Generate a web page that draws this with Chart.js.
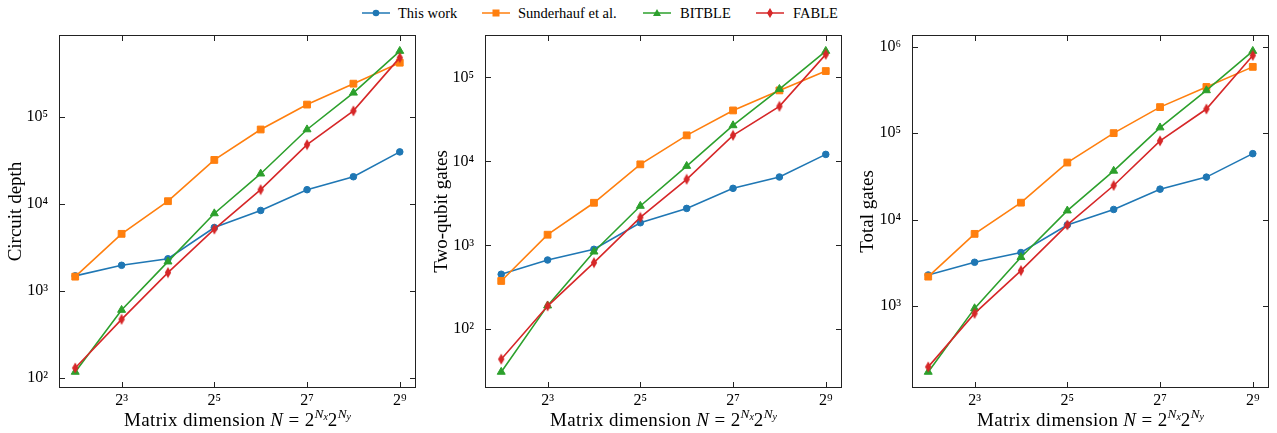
<!DOCTYPE html>
<html><head><meta charset="utf-8">
<script src="https://cdn.jsdelivr.net/npm/chart.js@4.4.1/dist/chart.umd.min.js"></script>
<style>
html,body{margin:0;padding:0;background:#fff;width:1277px;height:433px;overflow:hidden;font-family:"Liberation Serif",serif;color:#000}
.panel{position:absolute;top:0;height:433px;}
.xt{position:absolute;top:420px;font-size:19px;letter-spacing:0.35px;white-space:nowrap;transform:translate(-50%,-50%);}
.xt sup{font-size:70%;vertical-align:0.6em;line-height:0;letter-spacing:0}
.xt sub{font-size:75%;vertical-align:-0.2em;line-height:0}
.lg{position:absolute;top:13px;transform:translateY(-50%);font-size:14.5px;white-space:nowrap}
.lm{position:absolute;top:8px}
</style></head><body>
<div id="legend"></div>
<div class="panel" style="left:0;width:426px"><canvas id="c1"></canvas></div>
<div class="panel" style="left:426px;width:426px"><canvas id="c2"></canvas></div>
<div class="panel" style="left:852px;width:425px"><canvas id="c3"></canvas></div>
<script>
// ---- data ----
const dims = [4, 8, 16, 32, 64, 128, 256, 512];
const xTickExps = [3, 5, 7, 9];
const seriesNames = ["This work", "Sunderhauf et al.", "BITBLE", "FABLE"];

const depthThis   = [1490, 1970, 2340, 5340, 8380, 14500, 20400, 39300];
const depthSund   = [1460, 4520, 10700, 31800, 71000, 137000, 238000, 414000];
const depthBitble = [118, 605, 2170, 7740, 22100, 71000, 187000, 563000];
const depthFable  = [131, 473, 1625, 5120, 14500, 47600, 116000, 473000];

const twoqThis   = [452, 668, 896, 1857, 2750, 4770, 6510, 12100];
const twoqSund   = [376, 1337, 3210, 9210, 20400, 40400, 70000, 119000];
const twoqBitble = [31, 191, 839, 2940, 8790, 26800, 72600, 206000];
const twoqFable  = [44, 189, 621, 2150, 6110, 20400, 45200, 188000];

const totalThis   = [2290, 3210, 4160, 8670, 13100, 22500, 31000, 57900];
const totalSund   = [2190, 6840, 15700, 45700, 100000, 200000, 342000, 584000];
const totalBitble = [173, 940, 3670, 12700, 36600, 116000, 312000, 890000];
const totalFable  = [198, 822, 2570, 8670, 24800, 81500, 190000, 792000];

const yTitles = ["Circuit depth", "Two-qubit gates", "Total gates"];
// ---- styles ----
const colors = ["#1f77b4", "#ff7f0e", "#2ca02c", "#d62728"];
const SUP = {"0":"⁰","1":"¹","2":"²","3":"³","4":"⁴","5":"⁵","6":"⁶","7":"⁷","8":"⁸","9":"⁹"};
const FONT = '"Liberation Serif", serif';

function thinDiamond(color){
  const c = document.createElement('canvas'); c.width = 8; c.height = 12;
  const g = c.getContext('2d');
  g.fillStyle = color; g.beginPath();
  g.moveTo(4, 0.5); g.lineTo(7.2, 6); g.lineTo(4, 11.5); g.lineTo(0.8, 6); g.closePath(); g.fill();
  return c;
}
const pointStyles = ['circle', 'rect', 'triangle', thinDiamond(colors[3])];
const pointRadii = [3.3, 4.8, 4.6, 4];

const frame = {
  id: 'frame',
  afterDraw(chart){
    const {ctx, chartArea: a, scales: {x, y}} = chart;
    ctx.save();
    ctx.strokeStyle = '#222'; ctx.lineWidth = 1;
    ctx.strokeRect(Math.round(a.left)+0.5, Math.round(a.top)+0.5, Math.round(a.right-a.left)-1, Math.round(a.bottom-a.top)-1);
    const L = 6;
    ctx.beginPath();
    x.ticks.forEach(t => { const p = Math.round(x.getPixelForValue(t.value))+0.5;
      ctx.moveTo(p, a.bottom); ctx.lineTo(p, a.bottom-L); ctx.moveTo(p, a.top); ctx.lineTo(p, a.top+L); });
    y.ticks.forEach(t => { const p = Math.round(y.getPixelForValue(t.value))+0.5;
      ctx.moveTo(a.left, p); ctx.lineTo(a.left+L, p); ctx.moveTo(a.right, p); ctx.lineTo(a.right-L, p); });
    ctx.stroke(); ctx.restore();
  }
};

function makeChart(id, seriesList, yTitle, yAxisW, rightPad){
  const all = seriesList.flat();
  const lo = Math.log10(Math.min(...all)), hi = Math.log10(Math.max(...all));
  const m = 0.05*(hi-lo);
  const yMin = Math.pow(10, lo-m), yMax = Math.pow(10, hi+m);
  const xlo = Math.log2(dims[0]), xhi = Math.log2(dims[dims.length-1]);
  const xm = 0.05*(xhi-xlo);
  return new Chart(document.getElementById(id), {
    type: 'line',
    data: {
      datasets: seriesList.map((vals, i) => ({
        label: seriesNames[i],
        data: dims.map((d, j) => ({x: d, y: vals[j]})),
        borderColor: colors[i], backgroundColor: colors[i],
        pointBackgroundColor: colors[i], pointBorderColor: colors[i],
        borderWidth: 1.6, pointStyle: pointStyles[i], pointRadius: pointRadii[i],
        pointBorderWidth: i === 3 ? 0 : 1, tension: 0, order: 3-i
      }))
    },
    options: {
      responsive: true, maintainAspectRatio: false, animation: false, devicePixelRatio: 1,
      layout: {padding: {top: 35, right: rightPad, left: 0, bottom: 0}},
      plugins: {legend: {display: false}, tooltip: {enabled: false}},
      scales: {
        x: {
          type: 'logarithmic', bounds: 'data',
          min: Math.pow(2, xlo-xm), max: Math.pow(2, xhi+xm),
          grid: {display: false}, border: {display: false},
          afterBuildTicks: s => { s.ticks = xTickExps.map(e => ({value: Math.pow(2, e)})); },
          afterFit: s => { s.height = 45; },
          ticks: {autoSkip: false, maxRotation: 0, padding: -5, color: '#000',
            font: {family: FONT, size: 16},
            callback: v => '2' + String(Math.round(Math.log2(v))).split('').map(c => SUP[c]).join('')}
        },
        y: {
          type: 'logarithmic', bounds: 'data', min: yMin, max: yMax,
          grid: {display: false}, border: {display: false},
          afterBuildTicks: s => { const t = [];
            for (let e = Math.ceil(Math.log10(s.min)); e <= Math.floor(Math.log10(s.max)); e++) t.push({value: Math.pow(10, e)});
            s.ticks = t; },
          afterFit: s => { s.width = yAxisW; },
          title: {display: true, text: yTitle, color: '#000', font: {family: FONT, size: 19}, padding: {top: 5, bottom: 0}},
          ticks: {padding: 3, color: '#000', font: {family: FONT, size: 16},
            callback: v => '10' + String(Math.round(Math.log10(v))).split('').map(c => SUP[c]).join('')}
        }
      }
    },
    plugins: [frame]
  });
}

makeChart('c1', [depthThis, depthSund, depthBitble, depthFable], yTitles[0], 59, 10);
makeChart('c2', [twoqThis, twoqSund, twoqBitble, twoqFable], yTitles[1], 59, 10);
makeChart('c3', [totalThis, totalSund, totalBitble, totalFable], yTitles[2], 60, 8);

// x-axis titles (math formatting)
const xTitleHTML = 'Matrix dimension <i>N</i> = 2<sup><i>N<sub>x</sub></i></sup>2<sup><i>N<sub>y</sub></i></sup>';
[237.5, 663.5, 1090.5].forEach(cx => {
  const d = document.createElement('div'); d.className = 'xt'; d.style.left = cx + 'px';
  d.innerHTML = xTitleHTML; document.body.appendChild(d);
});

// legend
const lgLineX = [362, 482, 643, 756];
const lgTextX = [398, 518, 680, 793];
const lg = document.getElementById('legend');
seriesNames.forEach((name, i) => {
  const c = colors[i];
  let mk;
  if (i === 0) mk = `<circle cx="14" cy="5" r="3.3" fill="${c}"/>`;
  else if (i === 1) mk = `<rect x="10.5" y="1.5" width="7" height="7" fill="${c}"/>`;
  else if (i === 2) mk = `<polygon points="14,1 18,8 10,8" fill="${c}"/>`;
  else mk = `<polygon points="14,0 17,5 14,10 11,5" fill="${c}"/>`;
  lg.insertAdjacentHTML('beforeend',
    `<svg class="lm" style="left:${lgLineX[i]}px" width="28" height="10"><line x1="0" y1="5" x2="28" y2="5" stroke="${c}" stroke-width="1.5"/>${mk}</svg>` +
    `<div class="lg" style="left:${lgTextX[i]}px">${name}</div>`);
});
</script>
</body></html>
